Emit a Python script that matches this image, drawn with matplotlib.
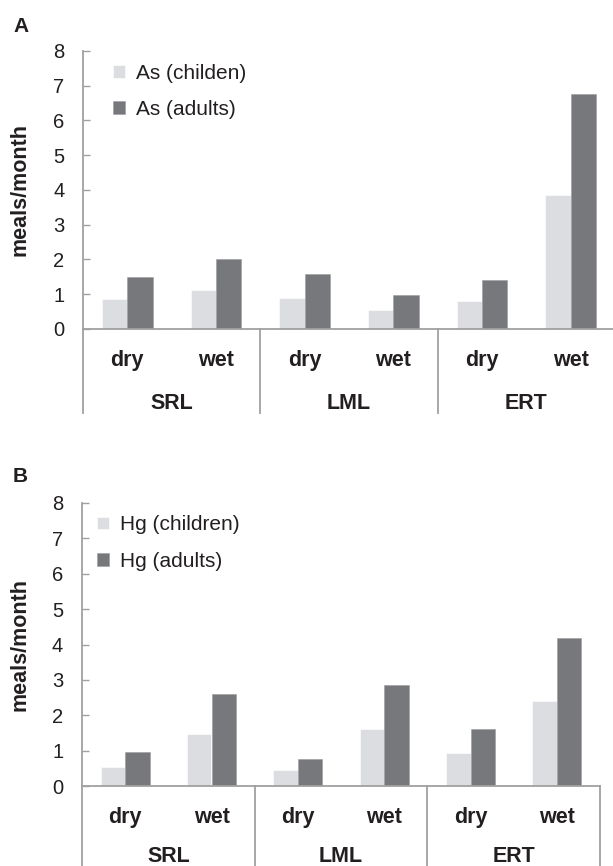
import matplotlib
matplotlib.use('Agg')
import matplotlib.pyplot as plt

plt.rcParams['font.family'] = ['Liberation Sans', 'DejaVu Sans']

sites = ['SRL', 'LML', 'ERT']
seasons = ['dry', 'wet']
as_children = [0.85, 1.12, 0.89, 0.54, 0.81, 3.86]
as_adults = [1.49, 2.00, 1.59, 0.97, 1.40, 6.75]
hg_children = [0.53, 1.46, 0.44, 1.61, 0.93, 2.39]
hg_adults = [0.95, 2.59, 0.76, 2.85, 1.61, 4.17]
yticks = [0, 1, 2, 3, 4, 5, 6, 7, 8]
legend_a = ['As (childen)', 'As (adults)']
legend_b = ['Hg (children)', 'Hg (adults)']

LIGHT = '#dcdde0'
DARK = '#77787c'
AXC = '#a0a0a0'
TXT = '#231f20'
W, H = 613, 866
FS = 15

fig = plt.figure(figsize=(W / 100, H / 100), dpi=100)


def panel(rect_px, children, adults, labels, letter, letter_xy, below_px,
          leg_px, site_off):
    l, t, r, b = rect_px
    ax = fig.add_axes([l / W, 1 - b / H, (r - l) / W, (b - t) / H])
    n = len(children)
    xs = list(range(n))
    w = 0.285
    ax.bar([x - w / 2 for x in xs], children, width=w, color=LIGHT,
           edgecolor='white', linewidth=0.4, label=labels[0], zorder=2)
    ax.bar([x + w / 2 for x in xs], adults, width=w, color=DARK,
           edgecolor='#9a9b9e', linewidth=0.4, label=labels[1], zorder=2)
    ax.set_xlim(-0.5, n - 0.5)
    ax.set_ylim(0, 8)
    ax.set_yticks(yticks)
    ax.set_xticks([])
    for s in ['top', 'right']:
        ax.spines[s].set_visible(False)
    for s in ['left', 'bottom']:
        ax.spines[s].set_color(AXC)
        ax.spines[s].set_linewidth(1.3)
    ax.tick_params(axis='y', direction='in', length=5, width=1.0, color=AXC,
                   pad=13.5, labelsize=14.5, labelcolor=TXT)
    # extension lines below axis
    hpx = b - t
    ext = -below_px / hpx
    for xf in [0, 1 / 3, 2 / 3, 1]:
        ax.plot([xf, xf], [0, ext], transform=ax.transAxes, color=AXC,
                lw=1.3, clip_on=False)
    # category labels
    for i, x in enumerate(xs):
        ax.annotate(seasons[i % 2], xy=(x, 0), xycoords=('data', 'axes fraction'),
                    xytext=(0, -26.6), textcoords='offset points', ha='center',
                    va='baseline', fontsize=FS + 0.5, fontweight='bold', color=TXT)
    for g, site in enumerate(sites):
        ax.annotate(site, xy=(2 * g + 0.5, 0), xycoords=('data', 'axes fraction'),
                    xytext=(0, -site_off), textcoords='offset points', ha='center',
                    va='baseline', fontsize=FS + 0.5, fontweight='bold', color=TXT)
    lx = (leg_px[0] - l) / (r - l)
    ly = 1 - (leg_px[1] - t) / hpx
    leg = ax.legend(loc='upper left', bbox_to_anchor=(lx, ly), frameon=False,
                    handlelength=0.56, handleheight=0.56, handletextpad=0.56,
                    labelspacing=0.82, fontsize=FS, borderaxespad=0, borderpad=0)
    for tx in leg.get_texts():
        tx.set_color(TXT)
    fig.text(20 / W, 1 - ((t + b) / 2) / H, 'meals/month', rotation=90,
             ha='center', va='center', fontsize=FS + 0.5, fontweight='bold',
             color=TXT)
    fig.text(letter_xy[0] / W, 1 - letter_xy[1] / H, letter, ha='center',
             va='center', fontsize=15, fontweight='bold', color=TXT)
    return ax


panel((83, 51, 615, 329), as_children, as_adults, legend_a, 'A', (21, 26), 84,
      (113, 64), 57.6)
panel((82, 503, 600, 786), hg_children, hg_adults, legend_b, 'B', (20, 477), 80,
      (97, 515.5), 54.5)

fig.savefig('out.png', dpi=100)
